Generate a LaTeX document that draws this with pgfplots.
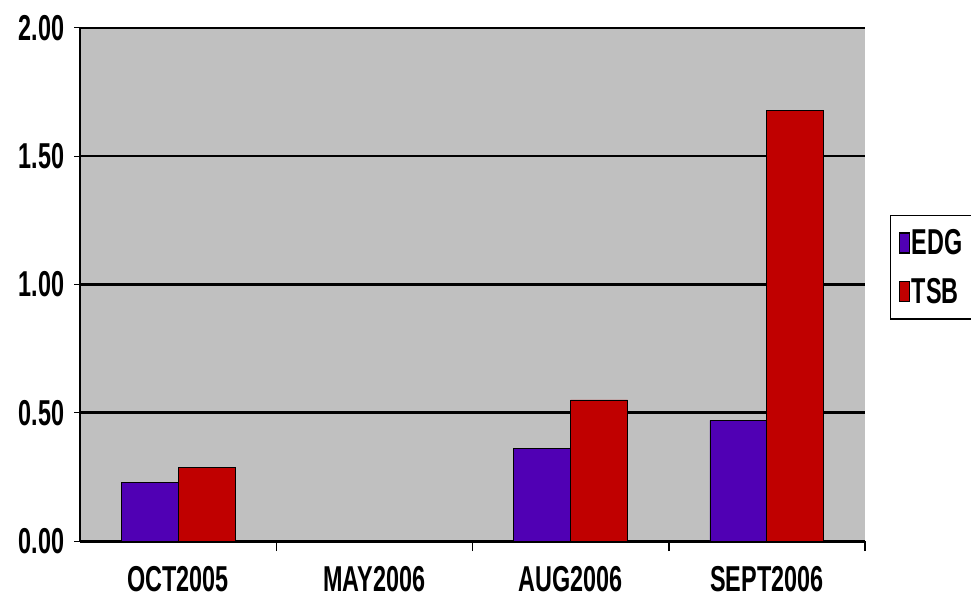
\documentclass[border=0pt]{standalone}
\usepackage{fontspec}
\setmainfont{Liberation Sans}
\usepackage{pgfplots}
\pgfplotsset{compat=1.18}
\definecolor{edg}{RGB}{80,0,180}
\definecolor{tsb}{RGB}{192,0,0}
\definecolor{bg}{RGB}{192,192,192}
\newcommand{\lab}[1]{\scalebox{0.65}[1]{\bfseries #1}}
\pgfplotsset{sqlegend/.style={legend image code/.code={\draw[##1,line width=1.2pt] (0pt,-10pt) rectangle (10pt,10pt);}}}
\begin{document}
\begin{tikzpicture}[x=1pt,y=1pt]
\path[use as bounding box] (0,0) rectangle (971,613);
\begin{axis}[
  at={(80pt,72pt)}, anchor=south west,
  scale only axis, width=785pt, height=513pt,
  xmin=-0.5, xmax=3.5, ymin=0, ymax=2,
  axis background/.style={fill=bg},
  axis x line*=bottom, axis y line*=left,
  x axis line style={line width=3pt,black},
  y axis line style={line width=2pt,black},
  tick align=outside,
  xtick={0,1,2,3},
  xticklabels={\lab{OCT2005},\lab{MAY2006},\lab{AUG2006},\lab{SEPT2006}},
  major x tick style={draw=none},
  extra x ticks={0.5,1.5,2.5,3.5},
  extra x tick labels={},
  extra x tick style={major x tick style={draw=black,line width=1.5pt}, major tick length=10pt},
  xticklabel style={font=\fontsize{36}{36}\selectfont, yshift=-16pt},
  ytick={0,0.5,1,1.5},
  yticklabels={\lab{0.00},\lab{0.50},\lab{1.00},\lab{1.50}},
  extra y ticks={2},
  extra y tick labels={\lab{2.00}},
  extra y tick style={grid style={gray!70!black,line width=2.5pt}},
  yticklabel style={font=\fontsize{36}{36}\selectfont, xshift=-6pt},
  major y tick style={black,line width=1pt},
  major tick length=6pt,
  ymajorgrids,
  major grid style={black,line width=2.5pt},
  legend style={at={(1.0318,0.6355)}, anchor=north west, draw=black, line width=1.5pt,
    fill=white, font=\fontsize{36}{36}\selectfont, row sep=18pt, inner xsep=8pt, inner ysep=12pt},
  legend cell align=left,
]
\addplot[ybar, bar width=0.29, bar shift=-0.145, fill=edg, draw=black, line width=0.8pt, sqlegend]
  coordinates {(0,0.23) (2,0.36) (3,0.47)};
\addlegendentry{\lab{EDG}}
\addplot[ybar, bar width=0.29, bar shift=0.145, fill=tsb, draw=black, line width=0.8pt, sqlegend]
  coordinates {(0,0.285) (2,0.55) (3,1.68)};
\addlegendentry{\lab{TSB}}
\end{axis}
\end{tikzpicture}
\end{document}
